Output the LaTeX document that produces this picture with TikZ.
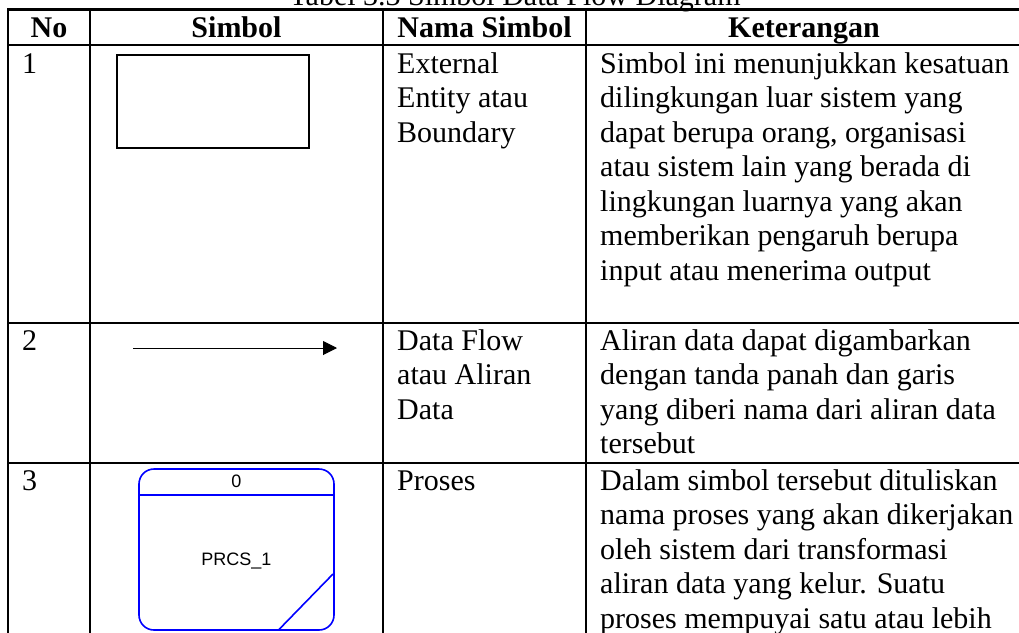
\documentclass[tikz,border=0pt]{standalone}
\usepackage{fontspec}
\setmainfont{Liberation Serif}
\newfontfamily\dfdsans{Liberation Sans}
\usetikzlibrary{arrows.meta}
\definecolor{dfdblue}{RGB}{0,0,255}
\tikzset{
  txt/.style={inner sep=0pt, anchor=base west, font=\fontsize{30}{34.5}\selectfont},
  hdr/.style={inner sep=0pt, anchor=base, font=\fontsize{30}{34.5}\selectfont\bfseries},
  ttl/.style={inner sep=0pt, anchor=base, font=\fontsize{30}{34.5}\selectfont},
  rulethick/.style={line width=2.2pt},
  rulethin/.style={line width=1.1pt},
  entity/.style={draw, line width=1.3pt, minimum width=192pt, minimum height=93pt, inner sep=0pt},
  flow/.style={line width=1pt, -{Triangle[length=14pt,width=14pt]}},
  procbox/.style={draw=dfdblue, line width=1.6pt, rounded corners=15pt,
    minimum width=195pt, minimum height=161pt, inner sep=0pt},
  procline/.style={draw=dfdblue, line width=1.6pt},
  proctxt/.style={inner sep=0pt, font=\dfdsans\fontsize{18}{20}\selectfont},
}
\begin{document}
\begin{tikzpicture}[x=1pt,y=-1pt]
\useasboundingbox (0,0) rectangle (1019,632);

% caption above the table
\node[ttl] (caption) at (515,5) {Tabel 3.3 Simbol Data Flow Diagram};

% table rules
\foreach \ry in {9.5,45,323,463}
  \draw[rulethick] (7,\ry) -- (1030,\ry);
\foreach \cx in {8,90,586}
  \draw[rulethick] (\cx,9.5) -- (\cx,640);
\draw[rulethin] (383,9.5) -- (383,640);

% header
\node[hdr] (hNo)  at (49,37)    {No};
\node[hdr] (hSym) at (236.5,37) {Simbol};
\node[hdr] (hNam) at (484.5,37) {Nama Simbol};
\node[hdr] (hKet) at (804,37)   {Keterangan};

% row 1: external entity
\node[txt] (n1) at (22,73) {1};
\node[entity] (ent) at (213,101.5) {};
\foreach \t [count=\i from 0] in {External, Entity atau, Boundary}
  \node[txt, name=nama1-\i] at (397,73+\i*34.5) {\t};
\foreach \t [count=\i from 0] in {Simbol ini menunjukkan kesatuan,
    dilingkungan luar sistem yang,
    {dapat berupa orang, organisasi},
    atau sistem lain yang berada di,
    lingkungan luarnya yang akan,
    memberikan pengaruh berupa,
    input atau menerima output}
  \node[txt, name=ket1-\i] at (600,73+\i*34.5) {\t};

% row 2: data flow
\node[txt] (n2) at (22,350) {2};
\coordinate (fs) at (133,348);
\coordinate (fe) at (337,348);
\draw[flow] (fs) -- (fe);
\foreach \t [count=\i from 0] in {Data Flow, atau Aliran, Data}
  \node[txt, name=nama2-\i] at (397,350+\i*34.5) {\t};
\foreach \t [count=\i from 0] in {Aliran data dapat digambarkan,
    dengan tanda panah dan garis,
    yang diberi nama dari aliran data,
    tersebut}
  \node[txt, name=ket2-\i] at (600,350+\i*34.5) {\t};

% row 3: process
\node[txt] (n3) at (22,490) {3};
\node[procbox] (proc) at (236.5,549.5) {};
\coordinate (divy) at (0,495);
\draw[procline] (proc.west |- divy) -- (proc.east |- divy);
\coordinate (slashA) at (278.5,630);
\coordinate (slashB) at (333,574);
\draw[procline] (slashA) -- (slashB);
\node[proctxt] (pid)   at (236.5,481) {0};
\node[proctxt] (pname) at (236.5,561) {PRCS\_1};
\node[txt] (nama3-0) at (397,490) {Proses};
\foreach \t [count=\i from 0] in {Dalam simbol tersebut dituliskan,
    nama proses yang akan dikerjakan,
    oleh sistem dari transformasi,
    aliran data yang kelur. Suatu,
    proses mempuyai satu atau lebih}
  \node[txt, name=ket3-\i] at (600,490+\i*34.5) {\t};
\end{tikzpicture}
\end{document}
